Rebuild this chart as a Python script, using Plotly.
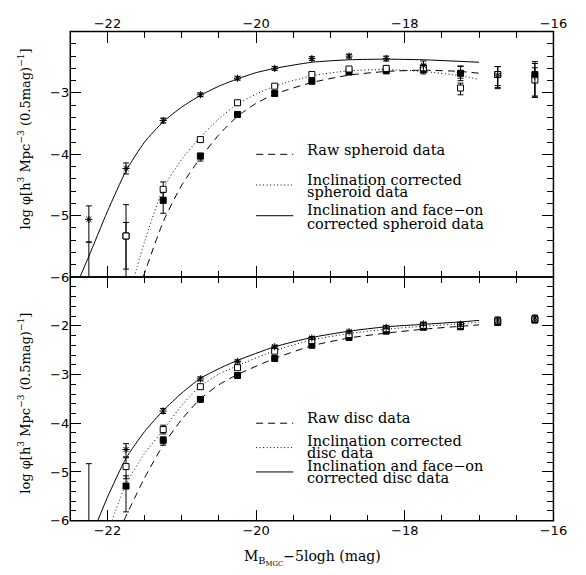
import plotly.graph_objects as go

# ---------------------------------------------------------------- data
mag_bins = [-22.25, -21.75, -21.25, -20.75, -20.25, -19.75, -19.25,
            -18.75, -18.25, -17.75, -17.25, -16.75, -16.25]

# spheroid luminosity function, log phi per 0.5 mag bin
sph_raw = [None, -5.33, -4.75, -4.03, -3.35, -3.01, -2.81, -2.66, -2.64, -2.62, -2.68, -2.70, -2.70]
sph_raw_up = [0, 0.22, 0.13, 0.05, 0.03, 0.03, 0.03, 0.03, 0.04, 0.06, 0.12, 0.13, 0.21]
sph_raw_dn = [0, 0.54, 0.21, 0.08, 0.03, 0.03, 0.03, 0.03, 0.04, 0.07, 0.08, 0.23, 0.37]

sph_incl = [-6.30, -5.33, -4.57, -3.76, -3.16, -2.89, -2.70, -2.61, -2.60, -2.60, -2.92, -2.70, -2.79]
sph_incl_up = [0.87, 0.51, 0.12, 0.04, 0.03, 0.03, 0.03, 0.03, 0.04, 0.06, 0.08, 0.13, 0.20]
sph_incl_dn = [0.00, 1.00, 0.13, 0.04, 0.03, 0.03, 0.03, 0.03, 0.04, 0.06, 0.11, 0.18, 0.28]

sph_face = [-5.06, -4.23, -3.45, -3.03, -2.76, -2.60, -2.44, -2.40, -2.44, -2.55, -2.67, -2.71, -2.72]
sph_face_up = [0.22, 0.09, 0.04, 0.03, 0.03, 0.03, 0.03, 0.03, 0.04, 0.07, 0.10, 0.14, 0.20]
sph_face_dn = [0.37, 0.09, 0.04, 0.03, 0.03, 0.03, 0.03, 0.03, 0.04, 0.09, 0.13, 0.20, 0.33]

# disc luminosity function
disc_raw = [None, -5.29, -4.35, -3.51, -3.02, -2.67, -2.40, -2.24, -2.11, -2.03, -2.02, -1.93, -1.88]
disc_raw_up = [0, 0.21, 0.07, 0.04, 0.03, 0.03, 0.03, 0.03, 0.03, 0.03, 0.04, 0.06, 0.06]
disc_raw_dn = [0, 0.53, 0.10, 0.04, 0.03, 0.03, 0.03, 0.03, 0.03, 0.03, 0.04, 0.06, 0.06]

disc_incl = [None, -4.89, -4.13, -3.25, -2.86, -2.52, -2.30, -2.18, -2.06, -1.99, -1.99, -1.90, -1.86]
disc_incl_up = [0, 0.18, 0.09, 0.04, 0.03, 0.03, 0.03, 0.03, 0.03, 0.03, 0.04, 0.06, 0.06]
disc_incl_dn = [0, 0.25, 0.09, 0.04, 0.03, 0.03, 0.03, 0.03, 0.03, 0.03, 0.04, 0.06, 0.06]

disc_face = [-6.40, -4.54, -3.75, -3.09, -2.73, -2.43, -2.25, -2.12, -2.03, -1.96, -1.97, -1.88, -1.84]
disc_face_up = [1.57, 0.12, 0.05, 0.04, 0.03, 0.03, 0.03, 0.03, 0.03, 0.03, 0.04, 0.06, 0.06]
disc_face_dn = [0.00, 0.15, 0.05, 0.04, 0.03, 0.03, 0.03, 0.03, 0.03, 0.03, 0.04, 0.06, 0.06]

# fitted luminosity functions (sampled)
sph_fit_raw_m = [-21.52, -21.25, -21.0, -20.75, -20.5, -20.25, -20.0, -19.75, -19.25, -18.75, -18.25, -17.75, -17.25, -17.0]
sph_fit_raw = [-6.0, -5.10, -4.50, -4.06, -3.68, -3.38, -3.17, -3.02, -2.83, -2.71, -2.65, -2.63, -2.65, -2.68]
sph_fit_incl_m = [-21.64, -21.5, -21.25, -21.0, -20.75, -20.5, -20.25, -20.0, -19.75, -19.25, -18.75, -18.25, -17.75, -17.25, -17.0]
sph_fit_incl = [-6.0, -5.42, -4.56, -4.08, -3.72, -3.42, -3.18, -3.02, -2.89, -2.72, -2.64, -2.62, -2.65, -2.72, -2.78]
sph_fit_face_m = [-22.37, -22.25, -22.0, -21.75, -21.5, -21.25, -21.0, -20.75, -20.5, -20.25, -20.0, -19.75, -19.25, -18.75, -18.25, -17.75, -17.0]
sph_fit_face = [-6.0, -5.66, -4.93, -4.27, -3.80, -3.47, -3.23, -3.04, -2.89, -2.77, -2.67, -2.60, -2.50, -2.46, -2.45, -2.46, -2.50]

disc_fit_raw_m = [-21.78, -21.5, -21.25, -21.0, -20.75, -20.5, -20.25, -19.75, -19.25, -18.75, -18.25, -17.75, -17.25, -17.0]
disc_fit_raw = [-6.0, -5.12, -4.45, -3.92, -3.50, -3.21, -3.00, -2.67, -2.41, -2.25, -2.15, -2.07, -2.01, -1.98]
disc_fit_incl_m = [-21.94, -21.75, -21.5, -21.25, -21.0, -20.75, -20.5, -20.25, -19.75, -19.25, -18.75, -18.25, -17.75, -17.25, -17.0]
disc_fit_incl = [-6.0, -5.25, -4.62, -4.14, -3.63, -3.24, -2.99, -2.82, -2.51, -2.29, -2.16, -2.07, -2.01, -1.96, -1.93]
disc_fit_face_m = [-22.13, -22.0, -21.75, -21.5, -21.25, -21.0, -20.75, -20.5, -20.25, -19.75, -19.25, -18.75, -18.25, -17.75, -17.25, -17.0]
disc_fit_face = [-6.0, -5.52, -4.72, -4.17, -3.74, -3.38, -3.08, -2.88, -2.71, -2.43, -2.24, -2.11, -2.02, -1.97, -1.92, -1.89]

sph_labels = ["Raw spheroid data", ["Inclination corrected", "spheroid data"],
              ["Inclination and face\u2212on", "corrected spheroid data"]]
disc_labels = ["Raw disc data", ["Inclination corrected", "disc data"],
               ["Inclination and face\u2212on", "corrected disc data"]]

x_ticks = [-22, -20, -18, -16]
sph_yticks = [-6, -5, -4, -3]
disc_yticks = [-6, -5, -4, -3, -2]

# ---------------------------------------------------------------- styling
W, H = 586, 575
TEXT_FONT = "DejaVu Serif"
TICK_FONT = "DejaVu Sans"
DASH = "7px,5px"
DOT = "1px,2.5px"

fig = go.Figure()


def add_points(y, up, dn, symbol, color, fill, xa, ya, size=6):
    fig.add_trace(go.Scatter(
        x=mag_bins, y=y, mode="markers", xaxis=xa, yaxis=ya, showlegend=False,
        marker=dict(symbol=symbol, size=size, color=fill,
                    line=dict(color=color, width=1)),
        error_y=dict(type="data", symmetric=False, array=up, arrayminus=dn,
                     color="black", thickness=1, width=3),
    ))


def add_fit(xs, ys, dash, xa, ya):
    fig.add_trace(go.Scatter(
        x=xs, y=ys, mode="lines", xaxis=xa, yaxis=ya, showlegend=False,
        line=dict(color="black", width=1, dash=dash, shape="spline", smoothing=0.6),
    ))


# upper panel: spheroids
add_fit(sph_fit_raw_m, sph_fit_raw, DASH, "x", "y")
add_fit(sph_fit_incl_m, sph_fit_incl, DOT, "x", "y")
add_fit(sph_fit_face_m, sph_fit_face, "solid", "x", "y")
add_points(sph_raw, sph_raw_up, sph_raw_dn, "square", "black", "black", "x", "y")
add_points(sph_incl, sph_incl_up, sph_incl_dn, "square", "black", "white", "x", "y")
add_points(sph_face, sph_face_up, sph_face_dn, "asterisk-open", "black", "black", "x", "y", size=6)

# lower panel: discs
add_fit(disc_fit_raw_m, disc_fit_raw, DASH, "x2", "y2")
add_fit(disc_fit_incl_m, disc_fit_incl, DOT, "x2", "y2")
add_fit(disc_fit_face_m, disc_fit_face, "solid", "x2", "y2")
add_points(disc_raw, disc_raw_up, disc_raw_dn, "square", "black", "black", "x2", "y2")
add_points(disc_incl, disc_incl_up, disc_incl_dn, "square", "black", "white", "x2", "y2")
add_points(disc_face, disc_face_up, disc_face_dn, "asterisk-open", "black", "black", "x2", "y2", size=6)

# key: line samples and labels inside each panel
annotations = []
for xa, ya, labels, text_y in (
        ("x", "y", sph_labels, [[-3.93], [-4.42, -4.62], [-4.90, -5.13]]),
        ("x2", "y2", disc_labels, [[-3.90], [-4.37, -4.62], [-4.87, -5.12]])):
    for dash, ly in ((DASH, -4.0), (DOT, -4.5), ("solid", -5.0)):
        fig.add_trace(go.Scatter(
            x=[-20.0, -19.5], y=[ly, ly], mode="lines", xaxis=xa, yaxis=ya,
            showlegend=False, line=dict(color="black", width=1, dash=dash)))
    for lab, ys in zip(labels, text_y):
        lines = [lab] if isinstance(lab, str) else lab
        for line, yy in zip(lines, ys):
            annotations.append(dict(
                x=-19.34, y=yy, xref=xa, yref=ya, text=line, showarrow=False,
                xanchor="left", yanchor="middle",
                font=dict(family=TEXT_FONT, size=14.5, color="black")))

ytitle = "log \u03c6[h<sup>3</sup> Mpc<sup>\u22123</sup> (0.5mag)<sup>\u22121</sup>]"
for yc in (1 - 141 / H, 1 - 409 / H):
    annotations.append(dict(
        x=25 / W, y=yc, xref="paper", yref="paper", text=ytitle, textangle=-90,
        showarrow=False, xanchor="center", yanchor="middle",
        font=dict(family=TEXT_FONT, size=13, color="black")))

annotations.append(dict(
    x=320 / W, y=1 - 566 / H, xref="paper", yref="paper",
    text="M<sub>B<sub>MGC</sub></sub>\u22125logh (mag)", showarrow=False,
    xanchor="center", yanchor="middle",
    font=dict(family=TEXT_FONT, size=14, color="black")))

x_dom = [72 / W, 567 / W]
upper_dom = [1 - 281 / H, 1 - 32 / H]
lower_dom = [1 - 528 / H, 1 - 281 / H]

# panel frames drawn as rectangles so the shared edge is a single line
shapes = [
    dict(type="rect", xref="paper", yref="paper", x0=x_dom[0], x1=x_dom[1],
         y0=dom[0], y1=dom[1], line=dict(color="black", width=1.5), layer="above")
    for dom in (upper_dom, lower_dom)
]

axis_common = dict(
    showgrid=False, zeroline=False, showline=False,
    mirror="ticks", ticks="inside", ticklen=11, tickwidth=1, tickcolor="black",
    tickfont=dict(family=TICK_FONT, size=13, color="black"),
)
minor_x = dict(ticks="inside", dtick=0.5, tick0=-22, ticklen=6, tickcolor="black", tickwidth=1)
minor_y = dict(ticks="inside", dtick=0.2, tick0=-6, ticklen=6, tickcolor="black", tickwidth=1)

fig.update_layout(
    width=W, height=H, margin=dict(l=0, r=0, t=0, b=0),
    paper_bgcolor="white", plot_bgcolor="white",
    showlegend=False,
    annotations=annotations, shapes=shapes,
    xaxis=dict(axis_common, domain=x_dom, range=[-22.5, -16], anchor="y",
               side="top", tickmode="array", tickvals=x_ticks,
               ticktext=[f"\u2212{abs(v)}" for v in x_ticks], minor=minor_x),
    yaxis=dict(axis_common, domain=upper_dom, range=[-6, -2], anchor="x",
               tickmode="array", tickvals=sph_yticks,
               ticktext=[f"\u2212{abs(v)}" for v in sph_yticks], minor=minor_y),
    xaxis2=dict(axis_common, domain=x_dom, range=[-22.5, -16], anchor="y2",
                side="bottom", tickmode="array", tickvals=x_ticks,
                ticktext=[f"\u2212{abs(v)}" for v in x_ticks], minor=minor_x),
    yaxis2=dict(axis_common, domain=lower_dom, range=[-6, -1], anchor="x2",
                tickmode="array", tickvals=disc_yticks,
                ticktext=[f"\u2212{abs(v)}" for v in disc_yticks], minor=minor_y),
)

fig.write_html("out.html")
